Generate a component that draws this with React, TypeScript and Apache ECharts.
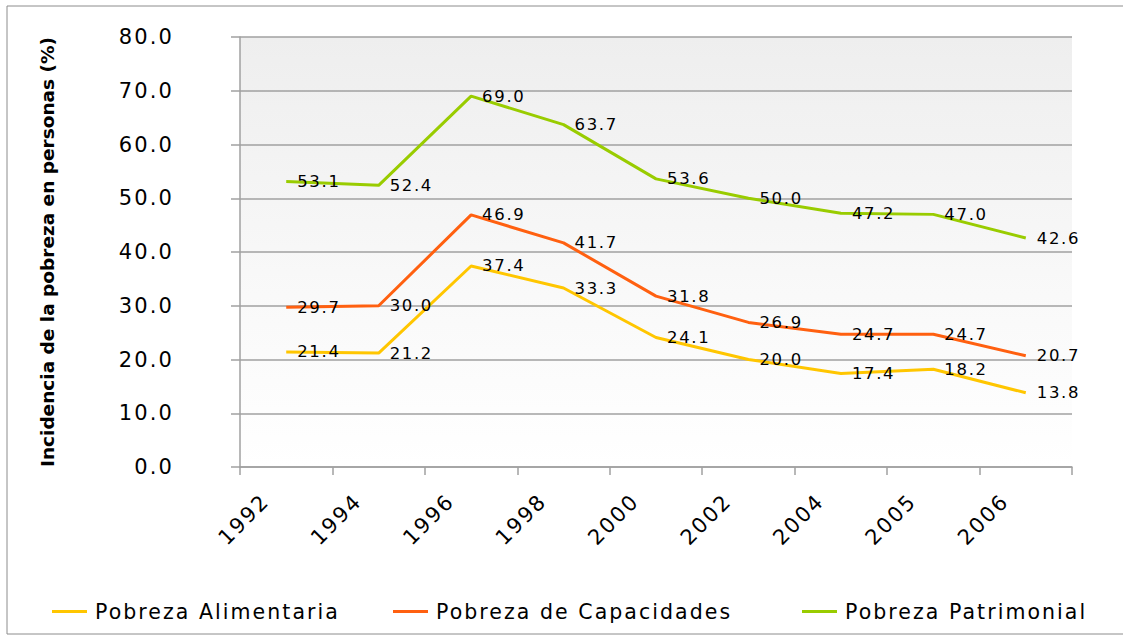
import React, { useEffect, useRef } from "react";
import * as echarts from "echarts";

const years = ["1992", "1994", "1996", "1998", "2000", "2002", "2004", "2005", "2006"];
const alimentaria = [21.4, 21.2, 37.4, 33.3, 24.1, 20.0, 17.4, 18.2, 13.8];
const capacidades = [29.7, 30.0, 46.9, 41.7, 31.8, 26.9, 24.7, 24.7, 20.7];
const patrimonial = [53.1, 52.4, 69.0, 63.7, 53.6, 50.0, 47.2, 47.0, 42.6];
const seriesNames = ["Pobreza Alimentaria", "Pobreza de Capacidades", "Pobreza Patrimonial"];
const seriesColors = ["#FFC600", "#FF6010", "#99CC00"];
const yMin = 0;
const yMax = 80;
const yInterval = 10;
const yTitle = "Incidencia de la pobreza en personas (%)";

const FONT = "DejaVu Sans";

export default function App() {
  const ref = useRef<HTMLDivElement>(null);
  useEffect(() => {
    if (!ref.current) return;
    const chart = echarts.init(ref.current, undefined, { renderer: "svg" });
    const data = [alimentaria, capacidades, patrimonial];
    const legendLefts = [52, 393, 802];
    chart.setOption({
      animation: false,
      backgroundColor: "#FFFFFF",
      textStyle: { fontFamily: FONT },
      graphic: [
        {
          type: "rect",
          shape: { x: 7, y: 6, width: 1200, height: 628 },
          style: { fill: "none", stroke: "#8C8C8C", lineWidth: 1 },
          silent: true,
          z: -10,
        },
      ],
      grid: {
        left: 240,
        top: 37,
        right: 51,
        bottom: 174,
        show: true,
        borderWidth: 0,
        backgroundColor: new echarts.graphic.LinearGradient(0, 0, 0, 1, [
          { offset: 0, color: "#EEEEEE" },
          { offset: 0.6, color: "#F9F9F9" },
          { offset: 1, color: "#FFFFFF" },
        ]),
      },
      legend: seriesNames.map((n, i) => ({
        data: [n],
        left: legendLefts[i],
        top: 601,
        padding: 0,
        icon: "rect",
        itemWidth: 35,
        itemHeight: 3,
        itemStyle: { color: seriesColors[i] },
        textStyle: { fontSize: 20.5, color: "#000", fontFamily: FONT, padding: [0, 0, 0, 3] },
      })),
      xAxis: {
        type: "category",
        data: years,
        boundaryGap: true,
        axisLine: { lineStyle: { color: "#A0A0A0", width: 1.5 } },
        axisTick: { show: true, length: 8, alignWithLabel: false, lineStyle: { color: "#A0A0A0", width: 1.5 } },
        axisLabel: {
          rotate: 45,
          fontSize: 21,
          color: "#000",
          fontFamily: FONT,
          margin: 10,
          padding: [0, 29, 0, 0],
          interval: 0,
        },
      },
      yAxis: {
        type: "value",
        min: yMin,
        max: yMax,
        interval: yInterval,
        name: yTitle,
        nameLocation: "middle",
        nameRotate: 90,
        nameGap: 183,
        nameTextStyle: { fontSize: 18.5, fontWeight: "bold", color: "#000", fontFamily: FONT },
        axisLine: { show: true, lineStyle: { color: "#A0A0A0", width: 1.5 } },
        axisTick: { show: true, length: 9, lineStyle: { color: "#A0A0A0", width: 1.5 } },
        axisLabel: {
          fontSize: 21,
          color: "#000",
          fontFamily: FONT,
          margin: 66,
          formatter: (v: number) => v.toFixed(1),
        },
        splitLine: { show: true, lineStyle: { color: "#A0A0A0", width: 1.5 } },
      },
      series: seriesNames.map((n, i) => ({
        name: n,
        type: "line",
        data: data[i],
        symbol: "circle",
        symbolSize: 0,
        showSymbol: true,
        color: seriesColors[i],
        lineStyle: { width: 3, color: seriesColors[i] },
        labelLayout: { hideOverlap: false },
        label: {
          show: true,
          position: "right",
          distance: 11,
          fontSize: 16.5,
          color: "#000",
          fontFamily: FONT,
          offset: [0, 1],
          formatter: (p: any) => Number(p.value).toFixed(1),
        },
      })),
    });
    return () => chart.dispose();
  }, []);
  return (
    <>
      <style>{`.resk text { letter-spacing: 0.1em; } .resk text[style*="bold"] { letter-spacing: 0; }`}</style>
      <div
        ref={ref}
        className="resk"
        style={{ position: "absolute", left: 0, top: 0, width: 1123, height: 641 }}
      />
    </>
  );
}
